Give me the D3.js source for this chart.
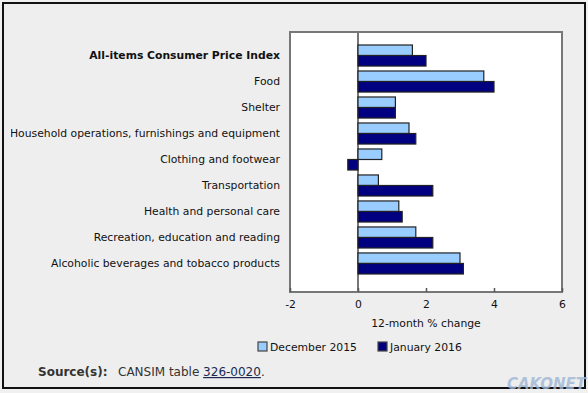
<!DOCTYPE html>
<html><head><meta charset="utf-8">
<script src="https://cdn.jsdelivr.net/npm/d3@7"></script>
<style>
html,body{margin:0;padding:0;background:#f4f4f4;}
svg{display:block;}
</style></head>
<body>
<svg id="c" width="588" height="393"></svg>
<script>
const categories = [
  "All-items Consumer Price Index",
  "Food",
  "Shelter",
  "Household operations, furnishings and equipment",
  "Clothing and footwear",
  "Transportation",
  "Health and personal care",
  "Recreation, education and reading",
  "Alcoholic beverages and tobacco products"
];
const seriesNames = ["December 2015", "January 2016"];
const dec2015 = [1.6, 3.7, 1.1, 1.5, 0.7, 0.6, 1.2, 1.7, 3.0];
const jan2016 = [2.0, 4.0, 1.1, 1.7, -0.3, 2.2, 1.3, 2.2, 3.1];
const xTicks = [-2, 0, 2, 4, 6];
const colors = ["#99ccff", "#000080"];

const svg = d3.select("#c");
const font = "Tahoma, 'DejaVu Sans', Verdana, sans-serif";
const fs = 10.8;

// outer panel
svg.append("rect").attr("x",0).attr("y",0).attr("width",588).attr("height",393).attr("fill","#f0f0f0");
svg.append("rect").attr("x",3).attr("y",3).attr("width",582).attr("height",385)
  .attr("fill","#eeeeee").attr("stroke","#111").attr("stroke-width",2);

const plot = {l:290, r:562, t:32, b:292};
const x = d3.scaleLinear().domain([-2,6]).range([plot.l, plot.r]);
const y = d3.scaleBand().domain(categories).range([45, 274]).paddingInner(0.19).paddingOuter(0);
const y2 = d3.scaleBand().domain([0,1]).range([0, y.bandwidth()]);

// plot area
svg.append("rect").attr("x",plot.l).attr("y",plot.t).attr("width",plot.r-plot.l).attr("height",plot.b-plot.t)
  .attr("fill","#fff").attr("stroke","#777").attr("stroke-width",2);

// zero line
svg.append("line").attr("x1",x(0)).attr("x2",x(0)).attr("y1",plot.t).attr("y2",plot.b)
  .attr("stroke","#777").attr("stroke-width",2);

// bars
const data = categories.map((c,i)=>({c, v:[dec2015[i], jan2016[i]]}));
const g = svg.append("g");
data.forEach(d=>{
  d.v.forEach((v,k)=>{
    g.append("rect")
      .attr("x", x(Math.min(0,v)))
      .attr("y", y(d.c)+y2(k))
      .attr("width", Math.abs(x(v)-x(0)))
      .attr("height", y2.bandwidth())
      .attr("fill", colors[k])
      .attr("stroke", "#222").attr("stroke-width", 1.2);
  });
});

// category labels
svg.append("clipPath").attr("id","lc").append("rect").attr("x",11).attr("y",0).attr("width",280).attr("height",393);
const lab = svg.append("g").attr("clip-path","url(#lc)");
categories.forEach((c,i)=>{
  lab.append("text").attr("x",280).attr("y",y(c)+y.bandwidth()/2).attr("dy","0.35em")
    .attr("text-anchor","end").attr("font-family",font).attr("font-size",fs)
    .attr("font-weight", i===0 ? "bold" : "normal").attr("fill","#111").text(c);
});

// x axis
const ax = svg.append("g").attr("transform",`translate(0,${plot.b})`)
  .call(d3.axisBottom(x).tickValues(xTicks).tickSize(-4).tickPadding(8).tickFormat(d=>String(d)));
ax.select(".domain").remove();
ax.selectAll(".tick line").attr("stroke","#555").attr("stroke-width",1.5);
ax.selectAll("text").attr("font-family",font).attr("font-size",fs).attr("fill","#111");

svg.append("text").attr("x",x(2)).attr("y",327).attr("text-anchor","middle")
  .attr("font-family",font).attr("font-size",fs).attr("fill","#111").text("12-month % change");

// legend
const legX = [258, 378];
seriesNames.forEach((s,k)=>{
  svg.append("rect").attr("x",legX[k]).attr("y",342).attr("width",9).attr("height",9)
    .attr("fill",colors[k]).attr("stroke","#444").attr("stroke-width",1.2);
  svg.append("text").attr("x",legX[k]+12).attr("y",347).attr("dy","0.35em")
    .attr("font-family",font).attr("font-size",fs).attr("fill","#111").text(s);
});

// source
const src = svg.append("text").attr("y",376).attr("font-family",font).attr("font-size",12).attr("fill","#333");
src.append("tspan").attr("x",38).attr("font-weight","bold").text("Source(s):");
src.append("tspan").attr("x",118).text("CANSIM table ");
src.append("tspan").attr("fill","#1a2a55").attr("text-decoration","underline").text("326-0020");
src.append("tspan").text(".");

// watermark
svg.append("text").attr("x",586).attr("y",389).attr("text-anchor","end")
  .attr("font-family","'DejaVu Sans', sans-serif").attr("font-weight","bold").attr("font-style","italic")
  .attr("font-size",15).attr("fill","#9fb6d6").attr("opacity",0.8).text("CAKONET");
</script>
</body></html>
